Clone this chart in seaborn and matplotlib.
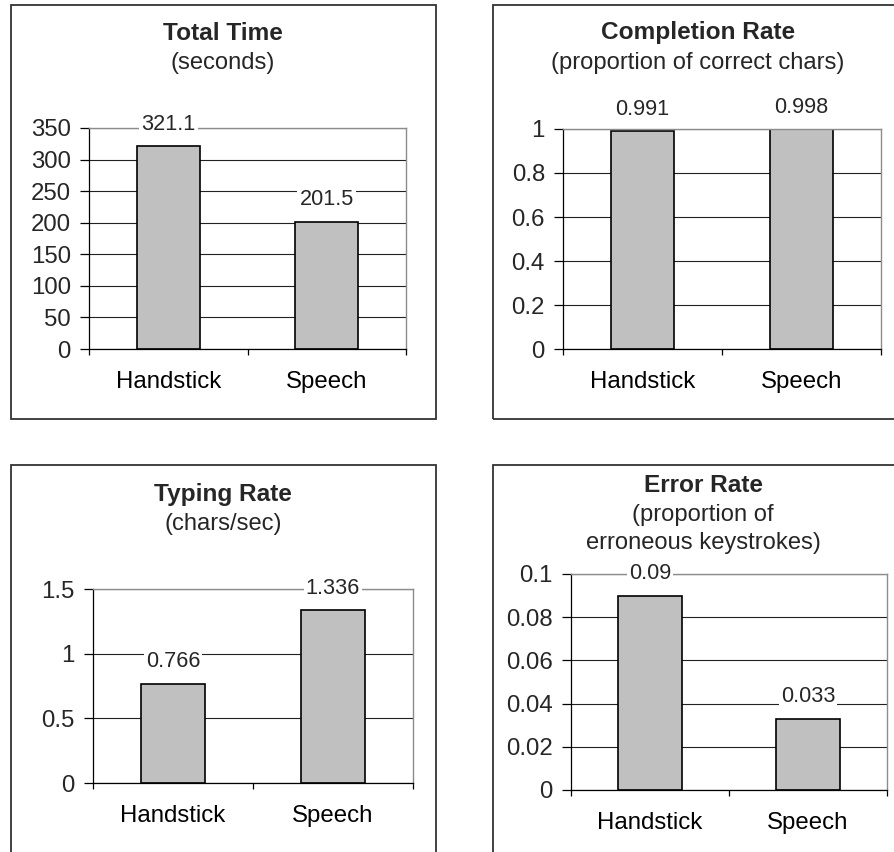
import matplotlib
matplotlib.use("Agg")
import matplotlib.pyplot as plt
import seaborn as sns
from matplotlib.patches import Rectangle
from matplotlib.ticker import FuncFormatter

sns.set_theme(style="white")
plt.rcParams["font.family"] = ["Liberation Sans", "DejaVu Sans"]

W, H = 894, 852

categories = ["Handstick", "Speech"]

time_vals = [321.1, 201.5]
time_ticks = [0, 50, 100, 150, 200, 250, 300, 350]

completion_vals = [0.991, 0.998]
completion_ticks = [0, 0.2, 0.4, 0.6, 0.8, 1]

typing_vals = [0.766, 1.336]
typing_ticks = [0, 0.5, 1, 1.5]

error_vals = [0.09, 0.033]
error_ticks = [0, 0.02, 0.04, 0.06, 0.08, 0.1]

titles = ["Total Time", "Completion Rate", "Typing Rate", "Error Rate"]
subtitles = ["(seconds)", "(proportion of correct chars)", "(chars/sec)",
             "(proportion of\nerroneous keystrokes)"]

# pixel layout: plot area (left, top, right, bottom), frame box, title centre
panels = [
    dict(vals=time_vals, ticks=time_ticks, area=(89, 128, 406, 349),
         box=(11, 5, 436, 419), tc=(223, 33), sc=(223, 63)),
    dict(vals=completion_vals, ticks=completion_ticks, area=(563, 129, 881, 349),
         box=(493, 5, 915, 419), tc=(698, 33), sc=(698, 63)),
    dict(vals=typing_vals, ticks=typing_ticks, area=(93, 589, 413, 783),
         box=(11, 465, 436, 870), tc=(223, 494), sc=(223, 524)),
    dict(vals=error_vals, ticks=error_ticks, area=(571, 574, 887, 790),
         box=(493, 465, 915, 870), tc=(703, 486), sc=(703, 529)),
]


def fx(x):
    return x / W


def fy(y):
    return 1 - y / H


fig = plt.figure(figsize=(W / 100, H / 100), dpi=100)
fig.patch.set_facecolor("white")

for i, p in enumerate(panels):
    x0, y0, x1, y1 = p["box"]
    fig.add_artist(Rectangle((fx(x0), fy(y1)), fx(x1 - x0), (y1 - y0) / H,
                             transform=fig.transFigure, fill=False,
                             edgecolor="#333333", linewidth=1.3))

    l, t, r, b = p["area"]
    ax = fig.add_axes([fx(l), fy(b), fx(r - l), (b - t) / H])
    sns.barplot(x=categories, y=p["vals"], ax=ax, color="#c0c0c0",
                saturation=1, width=0.4, edgecolor="black", linewidth=1.2)
    ax.set(xlabel="", ylabel="")
    ax.set_xlim(-0.5, 1.5)
    ax.set_ylim(p["ticks"][0], p["ticks"][-1])
    ax.set_yticks(p["ticks"])
    ax.yaxis.set_major_formatter(FuncFormatter(lambda v, pos: f"{v:g}"))
    ax.set_axisbelow(True)
    ax.yaxis.grid(True, color="#222222", linewidth=0.8)
    ax.xaxis.grid(False)

    for side in ["left", "bottom"]:
        ax.spines[side].set_color("black")
        ax.spines[side].set_linewidth(0.9)
    for side in ["top", "right"]:
        ax.spines[side].set_color("#8c8c8c")
        ax.spines[side].set_linewidth(1.0)

    ax.set_xticks([-0.5, 0.5, 1.5], minor=True)
    ax.tick_params(axis="x", which="major", length=0, pad=15.5, labelsize=17.3,
                   colors="black")
    ax.tick_params(axis="x", which="minor", length=4.5, width=0.9,
                   direction="out", color="black", bottom=True)
    ax.tick_params(axis="y", which="major", length=6.5, width=0.9,
                   direction="out", pad=6.5, labelsize=17.3, color="black",
                   left=True)

    for bar, v in zip(ax.patches, p["vals"]):
        ax.annotate(f"{v:g}", (bar.get_x() + bar.get_width() / 2, bar.get_height()),
                    xytext=(0, 15.8), textcoords="offset points", ha="center",
                    va="center", fontsize=15.6, annotation_clip=False,
                    bbox=dict(facecolor="white", edgecolor="none", pad=1.5))

    fig.text(fx(p["tc"][0]), fy(p["tc"][1]), titles[i], ha="center",
             va="center", fontsize=17.6, fontweight="bold")
    fig.text(fx(p["sc"][0]), fy(p["sc"][1]), subtitles[i], ha="center",
             va="center", fontsize=17.1, linespacing=1.4)

fig.savefig("out.png", dpi=100)
